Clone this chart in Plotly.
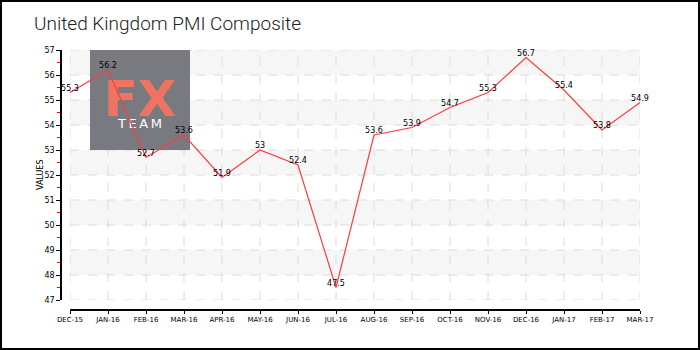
import plotly.graph_objects as go

# Monthly UK composite PMI readings
months = ["DEC-15", "JAN-16", "FEB-16", "MAR-16", "APR-16", "MAY-16", "JUN-16", "JUL-16",
          "AUG-16", "SEP-16", "OCT-16", "NOV-16", "DEC-16", "JAN-17", "FEB-17", "MAR-17"]
pmi = [55.3, 56.2, 52.7, 53.6, 51.9, 53.0, 52.4, 47.5,
       53.6, 53.9, 54.7, 55.3, 56.7, 55.4, 53.8, 54.9]
labels = ["55.3", "56.2", "52.7", "53.6", "51.9", "53", "52.4", "47.5",
          "53.6", "53.9", "54.7", "55.3", "56.7", "55.4", "53.8", "54.9"]
y_min, y_max = 47, 57

W, H = 700, 350
plot_left, plot_right = 70, 640
plot_top, plot_bottom = 50, 300
yaxis_x = 61
xaxis_y = 310

px_x = lambda v: v / W
px_y = lambda v: 1 - v / H
# pixel -> fraction of the plotting area
dom_x = lambda v: (v - plot_left) / (plot_right - plot_left)
dom_y = lambda v: (plot_bottom - v) / (plot_bottom - plot_top)

fig = go.Figure()
fig.add_trace(go.Scatter(
    x=months, y=pmi, mode="lines+text", text=labels,
    textposition="top center", cliponaxis=False,
    textfont=dict(family="DejaVu Sans", size=8, color="#000000"),
    line=dict(color="#ff3b3b", width=1.2),
    hoverinfo="skip", showlegend=False,
))

shapes = []
grid_line = dict(color="#dcdcdc", width=1, dash="dash")
# alternating horizontal bands
for lo in range(y_min + 1, y_max, 2):
    shapes.append(dict(type="rect", xref="x domain", yref="y", x0=0, x1=1, y0=lo, y1=lo + 1,
                       fillcolor="#f6f6f6", line=dict(width=0), layer="below"))
# dashed grid
for v in range(y_min, y_max + 1):
    shapes.append(dict(type="line", xref="x domain", yref="y", x0=0, x1=1, y0=v, y1=v,
                       line=grid_line, layer="below"))
for m in months:
    shapes.append(dict(type="line", xref="x", yref="y domain", x0=m, x1=m, y0=0, y1=1,
                       line=grid_line, layer="below"))
# logo block, kept underneath the series line
logo = dict(xref="x domain", yref="y domain", x0=dom_x(90), x1=dom_x(190), layer="below")
shapes.append(dict(type="rect", y0=dom_y(150), y1=dom_y(50),
                   fillcolor="#797980", line=dict(width=0), **logo))
shapes.append(dict(type="rect", y0=dom_y(115), y1=dom_y(75),
                   fillcolor="rgba(0,0,0,0)", line=dict(width=0),
                   label=dict(text="<b>FX</b>", textposition="middle center",
                              font=dict(family="DejaVu Sans", size=50,
                                        color="rgba(245,115,95,0.95)")), **logo))
shapes.append(dict(type="rect", y0=dom_y(129), y1=dom_y(115),
                   fillcolor="rgba(0,0,0,0)", line=dict(width=0),
                   label=dict(text="T\u2009E\u2009A\u2009M", textposition="middle center",
                              font=dict(family="DejaVu Sans", size=13, color="#ffffff")),
                   **logo))
# outer frame
shapes.append(dict(type="rect", xref="paper", yref="paper", x0=0, x1=1, y0=0, y1=1,
                   line=dict(color="#000000", width=4), fillcolor="rgba(0,0,0,0)", layer="above"))

annotations = [
    dict(text="VALUES", xref="paper", yref="paper", x=px_x(40), y=px_y(175),
         xanchor="center", yanchor="middle", showarrow=False, textangle=-90,
         font=dict(family="DejaVu Sans", size=8, color="#000000")),
]

fig.update_layout(
    width=W, height=H, autosize=False,
    margin=dict(l=0, r=0, t=0, b=0, pad=0, autoexpand=False),
    paper_bgcolor="#ffffff", plot_bgcolor="rgba(0,0,0,0)",
    title=dict(text="United Kingdom PMI Composite", x=px_x(34), xanchor="left",
               y=px_y(23), yanchor="middle", automargin=False,
               font=dict(family="Roboto", size=19, weight=300, color="#222222")),
    xaxis=dict(
        type="category", domain=[px_x(plot_left), px_x(plot_right)],
        range=[0, len(months) - 1], anchor="free", position=px_y(xaxis_y),
        automargin=False,
        showline=True, linecolor="#000000", linewidth=1.5,
        ticks="outside", ticklen=3, tickcolor="#000000",
        showgrid=False,
        tickfont=dict(family="DejaVu Sans", size=7, color="#000000"),
        zeroline=False, fixedrange=True,
    ),
    yaxis=dict(
        domain=[px_y(plot_bottom), px_y(plot_top)], range=[y_min, y_max],
        anchor="free", position=px_x(yaxis_x), automargin=False,
        dtick=1, tick0=0,
        showline=True, linecolor="#000000", linewidth=1.5,
        ticks="outside", ticklen=4, tickcolor="#000000",
        minor=dict(dtick=0.5, tick0=0, ticks="outside", ticklen=3, tickcolor="#ff0000",
                   showgrid=False),
        showgrid=False,
        tickfont=dict(family="DejaVu Sans", size=8, color="#000000"),
        zeroline=False, fixedrange=True,
    ),
    shapes=shapes,
    annotations=annotations,
)

fig.write_html("out.html")
